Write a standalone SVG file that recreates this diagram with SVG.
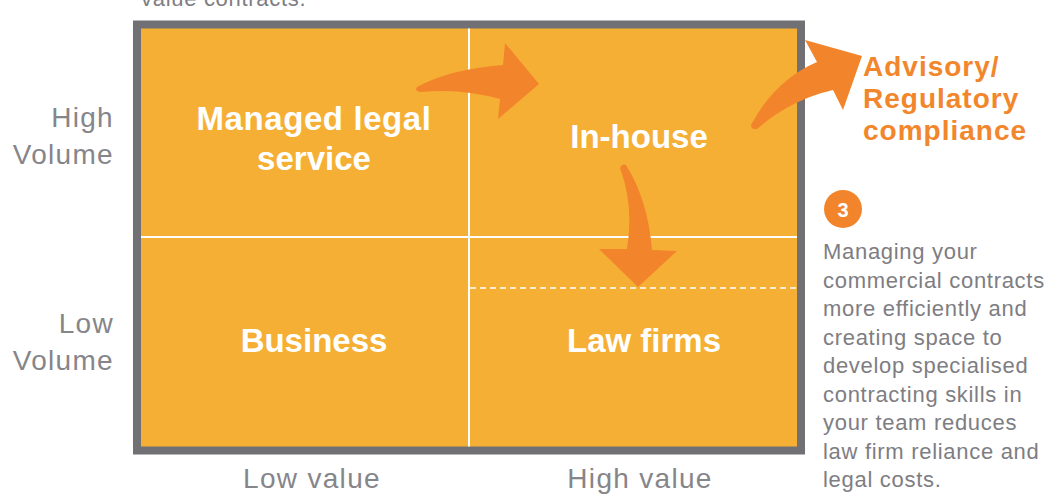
<svg xmlns="http://www.w3.org/2000/svg" width="1046" height="502" viewBox="0 0 1046 502">
  <style>
    .q { fill: #F6AF35; }
    .frame { fill: none; stroke: #717074; stroke-width: 8; }
    .div { stroke: #FFFFFF; stroke-width: 2; fill: none; }
    .dash { stroke: #FFFFFF; stroke-width: 1.5; stroke-dasharray: 6 4; fill: none; }
    .ql { font-family: "Liberation Sans", Arial, sans-serif; font-weight: bold; font-size: 33px; fill: #FFFFFF; text-anchor: middle; }
    .ax { font-family: "Liberation Sans", Arial, sans-serif; font-size: 28px; fill: #86858A; letter-spacing: 1.3px; }
    .para { font-family: "Liberation Sans", Arial, sans-serif; font-size: 22px; fill: #7E7D82; letter-spacing: 0.7px; }
    .adv { font-family: "Liberation Sans", Arial, sans-serif; font-weight: bold; font-size: 28px; fill: #F2862C; letter-spacing: 1px; }
    .arrow { fill: #F2852B; }
  </style>

  <text class="para" x="141" y="6">value contracts.</text>

  <g id="matrix">
    <rect class="q" x="137" y="24.5" width="664" height="426"/>
    <rect class="frame" x="137" y="24.5" width="664" height="426"/>
    <line class="div" x1="469" y1="28.5" x2="469" y2="446.5"/>
    <line class="div" x1="141" y1="237" x2="797" y2="237"/>
    <line class="dash" x1="470" y1="288" x2="797" y2="288"/>
  </g>

  <g id="node-managed">
    <text class="ql" x="314" y="130" letter-spacing="0.6">Managed legal</text>
    <text class="ql" x="314" y="170">service</text>
  </g>
  <g id="node-inhouse">
    <text class="ql" x="639" y="148">In-house</text>
  </g>
  <g id="node-business">
    <text class="ql" x="314" y="352">Business</text>
  </g>
  <g id="node-lawfirms">
    <text class="ql" x="644" y="352">Law firms</text>
  </g>
  <g id="node-advisory">
    <text class="adv" x="863" y="76">Advisory/</text>
    <text class="adv" x="863" y="108">Regulatory</text>
    <text class="adv" x="863" y="140">compliance</text>
  </g>

  <g id="axes">
    <text class="ax" x="114" y="127" text-anchor="end">High</text>
    <text class="ax" x="114" y="164" text-anchor="end">Volume</text>
    <text class="ax" x="114" y="333" text-anchor="end">Low</text>
    <text class="ax" x="114" y="370" text-anchor="end">Volume</text>
    <text class="ax" x="312" y="488" text-anchor="middle">Low value</text>
    <text class="ax" x="640" y="488" text-anchor="middle">High value</text>
  </g>

  <g id="note">
    <circle cx="843" cy="209" r="19" fill="#F2852B"/>
    <text x="843" y="216.5" text-anchor="middle" font-family="Liberation Sans, Arial, sans-serif" font-weight="bold" font-size="20" fill="#FFFFFF">3</text>
    <text class="para" x="823" y="259">Managing your</text>
    <text class="para" x="823" y="287.5">commercial contracts</text>
    <text class="para" x="823" y="316">more efficiently and</text>
    <text class="para" x="823" y="344.5">creating space to</text>
    <text class="para" x="823" y="373">develop specialised</text>
    <text class="para" x="823" y="401.5">contracting skills in</text>
    <text class="para" x="823" y="430">your team reduces</text>
    <text class="para" x="823" y="458.5">law firm reliance and</text>
    <text class="para" x="823" y="487">legal costs.</text>
  </g>

  <g id="connectors">
    <path class="arrow" d="M417,87 Q450,69 503,65 L505,43 L539,84 L498,119 L500,99 Q460,88 421,92 Q414,91 417,87 Z"/>
    <path class="arrow" d="M620,168 Q634,205 627,249 L599,249 L638,287 L677,251 L652,250 Q648,200 626,165 Q622,163 620,168 Z"/>
    <path class="arrow" d="M751,125 Q775,80 817,62 L805,40 L862,56 L843,110 L833,90 Q790,100 757,129 Q751,130 751,125 Z"/>
  </g>
</svg>
